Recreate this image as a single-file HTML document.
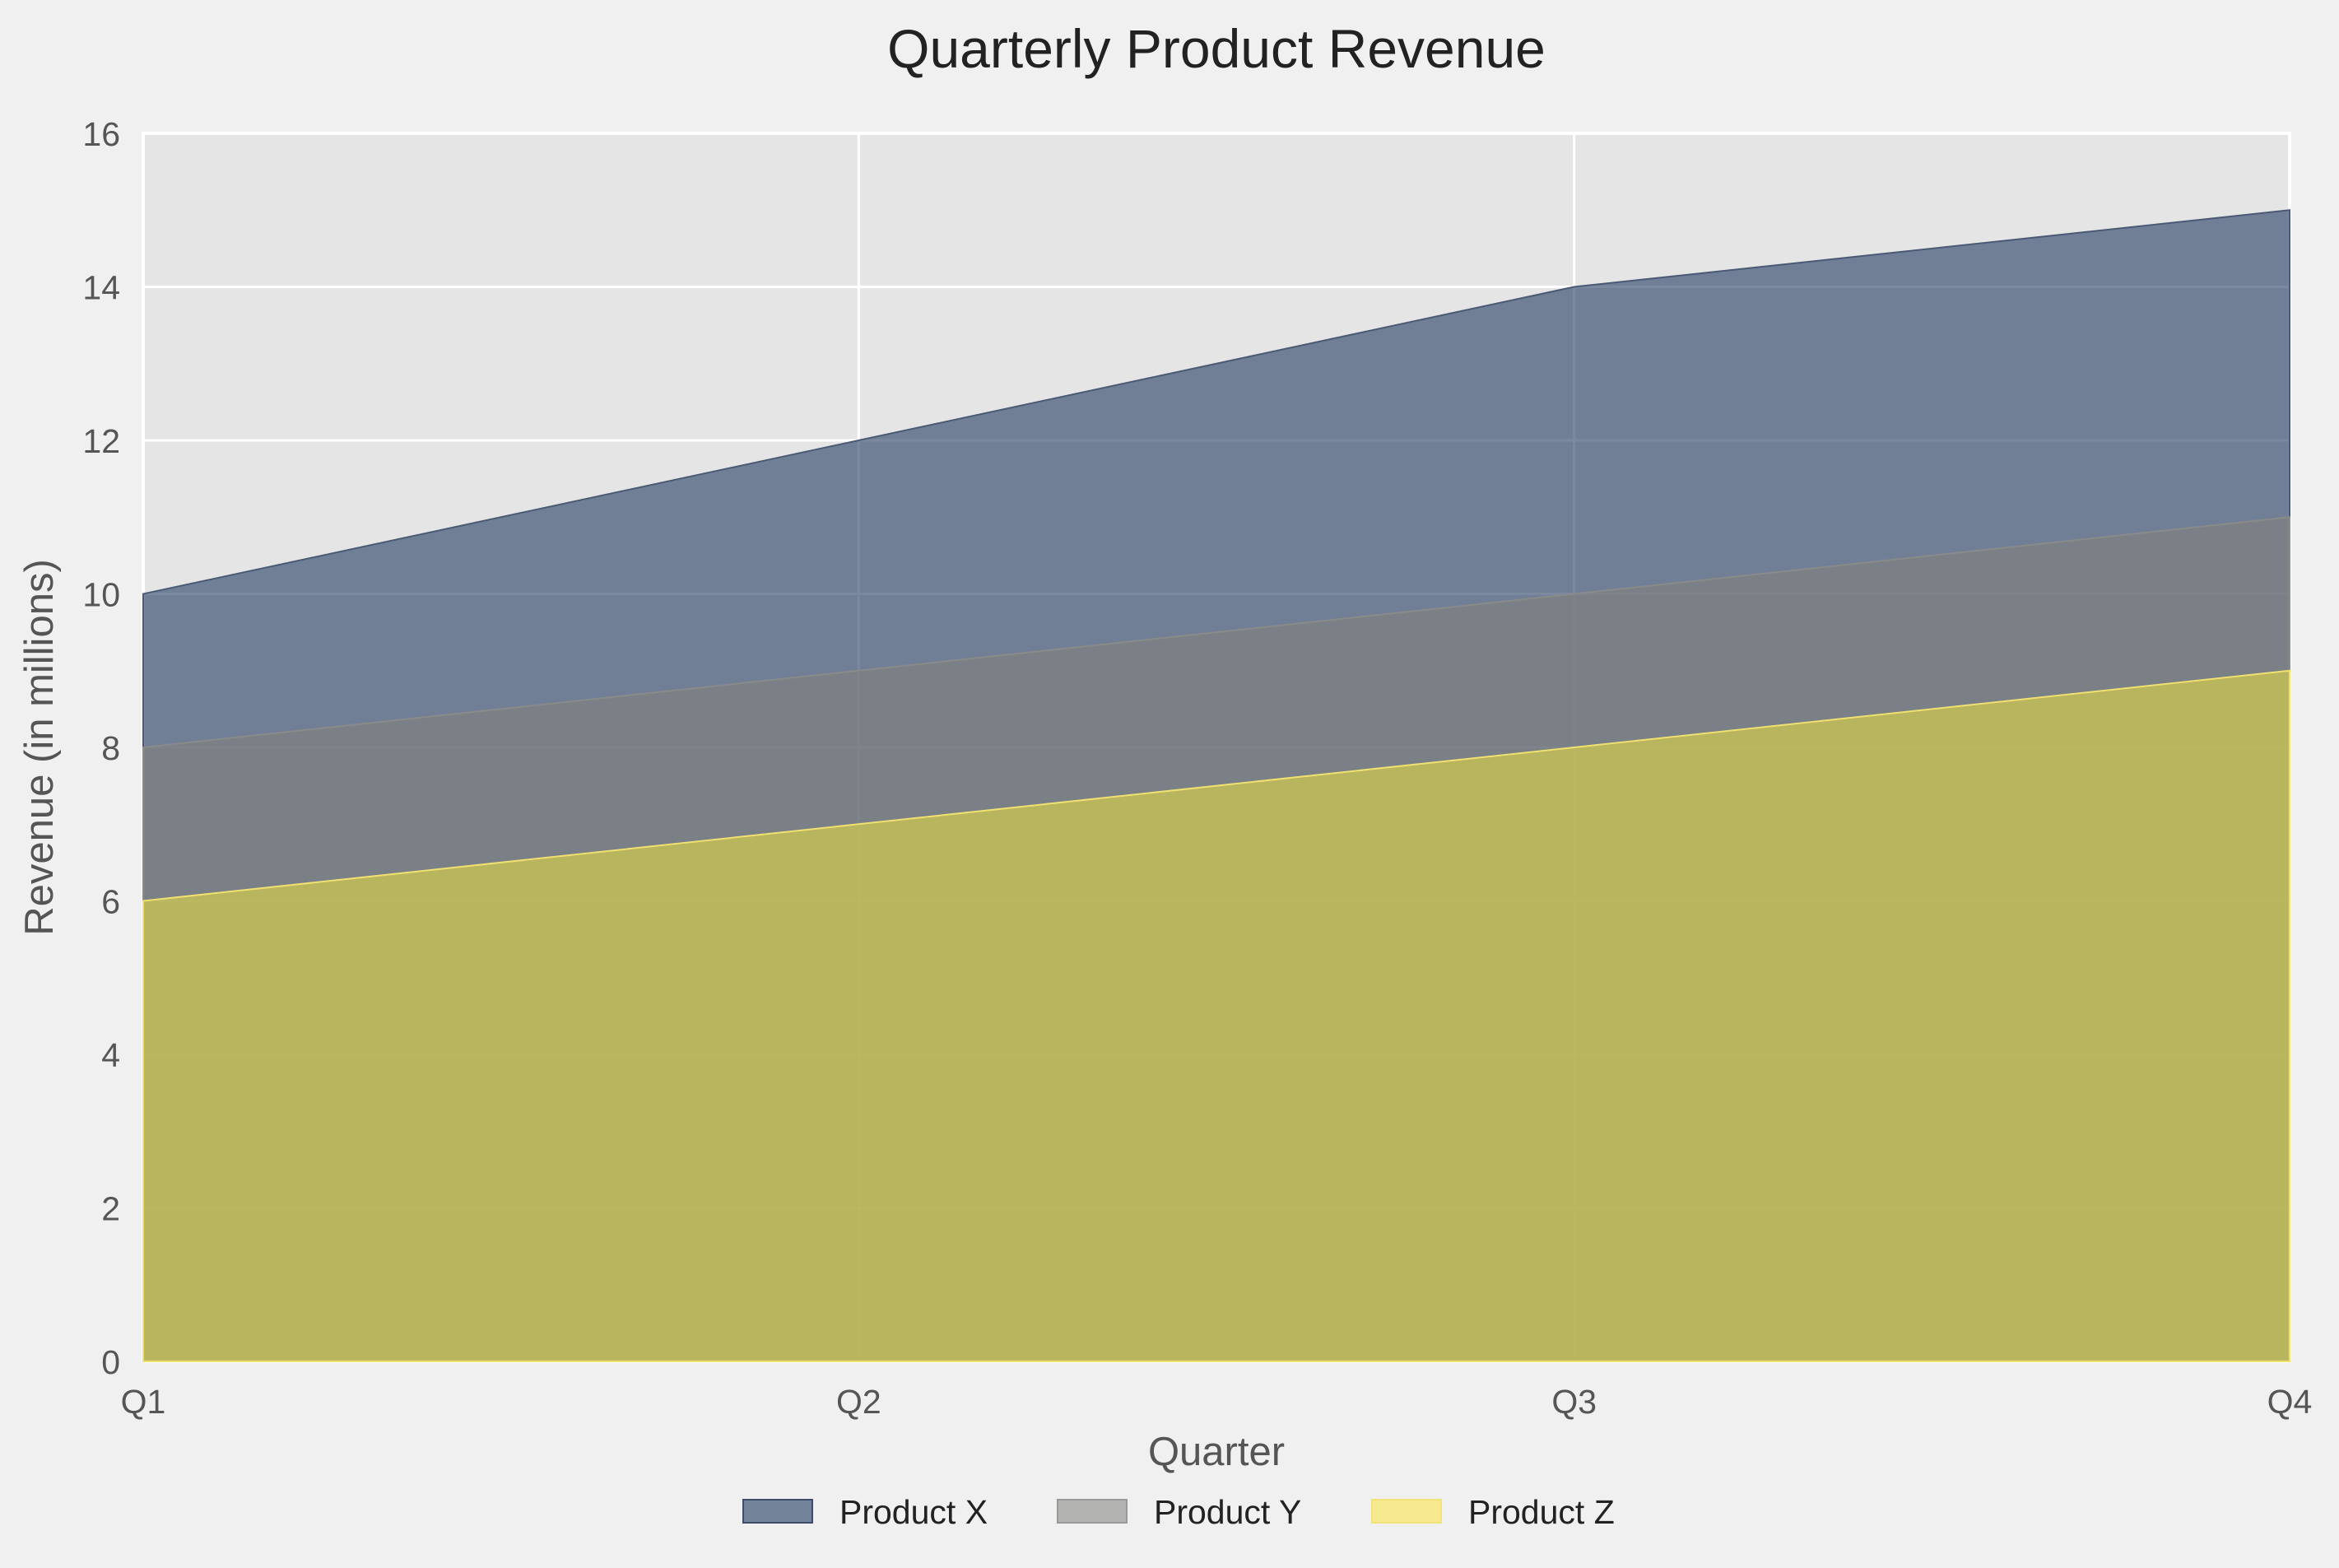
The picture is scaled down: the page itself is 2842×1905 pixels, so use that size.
<!DOCTYPE html>
<html><head><meta charset="utf-8"><style>
html,body{margin:0;padding:0;background:#f0f0f0;}
svg{display:block;font-family:"Liberation Sans",sans-serif;}
</style></head><body>
<svg id="chart" width="2842" height="1905" viewBox="0 0 2842 1905">
<rect width="2842" height="1905" fill="#f0f0f0"/>
<text x="1478" y="82" font-size="66" text-anchor="middle" fill="#222">Quarterly Product Revenue</text>
<rect id="plot" x="174" y="162" width="2608" height="1492" fill="#e5e5e5"/>
<g id="grid"></g>
<g id="areas"></g>
<g id="yticks"></g>
<g id="xticks"></g>
<text x="1478" y="1780" font-size="49" text-anchor="middle" fill="#555">Quarter</text>
<text transform="translate(64,908) rotate(-90)" font-size="49" text-anchor="middle" fill="#555">Revenue (in millions)</text>
<g id="legend"></g>
</svg>
<script>
const quarters = ["Q1","Q2","Q3","Q4"];
const productX = [10,12,14,15];
const productY = [8,9,10,11];
const productZ = [6,7,8,9];
const seriesNames = ["Product X","Product Y","Product Z"];
const yTicks = [0,2,4,6,8,10,12,14,16];

const NS="http://www.w3.org/2000/svg";
const L=174,R=2782,T=162,B=1654,YMAX=16;
function xs(i){return L+(R-L)*i/(quarters.length-1);}
function ys(v){return B-(B-T)*v/YMAX;}
function mk(tag,attrs,parent){const e=document.createElementNS(NS,tag);for(const k in attrs)e.setAttribute(k,attrs[k]);parent.appendChild(e);return e;}
const grid=document.getElementById('grid'),areas=document.getElementById('areas'),yt=document.getElementById('yticks'),xt=document.getElementById('xticks'),lg=document.getElementById('legend');
yTicks.forEach(v=>{
  const ln=mk('line',{x1:L,x2:R,y1:ys(v),y2:ys(v),stroke:'#fff','stroke-width':3},grid);
  
  
  const t=mk('text',{x:146,y:ys(v)+15,'font-size':41,'text-anchor':'end',fill:'#555'},yt);
  t.textContent=v;
  
  
});
quarters.forEach((q,i)=>{
  const ln=mk('line',{x1:xs(i),x2:xs(i),y1:T,y2:B,stroke:'#fff','stroke-width':3},grid);
  
  
  const t=mk('text',{x:xs(i),y:1717,'font-size':41,'text-anchor':'middle',fill:'#555'},xt);
  t.textContent=q;
  
  
});
const border=mk('rect',{x:L,y:T,width:R-L,height:B-T,fill:'none',stroke:'#fff','stroke-width':4},grid);


const fills=['#233b61','#808079','#e3d845'];
const strokes=['#4a5a76','#8a8a8a','#f0e070'];
[productX,productY,productZ].forEach((vals,s)=>{
  let d='M'+xs(0)+','+ys(0);
  vals.forEach((v,i)=>{d+=' L'+xs(i)+','+ys(v);});
  d+=' L'+xs(vals.length-1)+','+ys(0)+' Z';
  const p=mk('path',{d:d,fill:fills[s],'fill-opacity':0.6,stroke:strokes[s],'stroke-width':2},areas);
  
  
});
const lx=[903,1285,1667];
const patchCol=['#738399','#b3b3b1','#f6e98e'];
const patchEdge=['#3c4d6b','#999','#f3e27a'];
seriesNames.forEach((n,s)=>{
  const r=mk('rect',{x:lx[s],y:1822,width:84,height:28,fill:patchCol[s],stroke:patchEdge[s],'stroke-width':2},lg);
  
  
  const t=mk('text',{x:lx[s]+117,y:1851,'font-size':41,fill:'#222'},lg);
  t.textContent=n;
  
  
});
</script>
</body></html>
